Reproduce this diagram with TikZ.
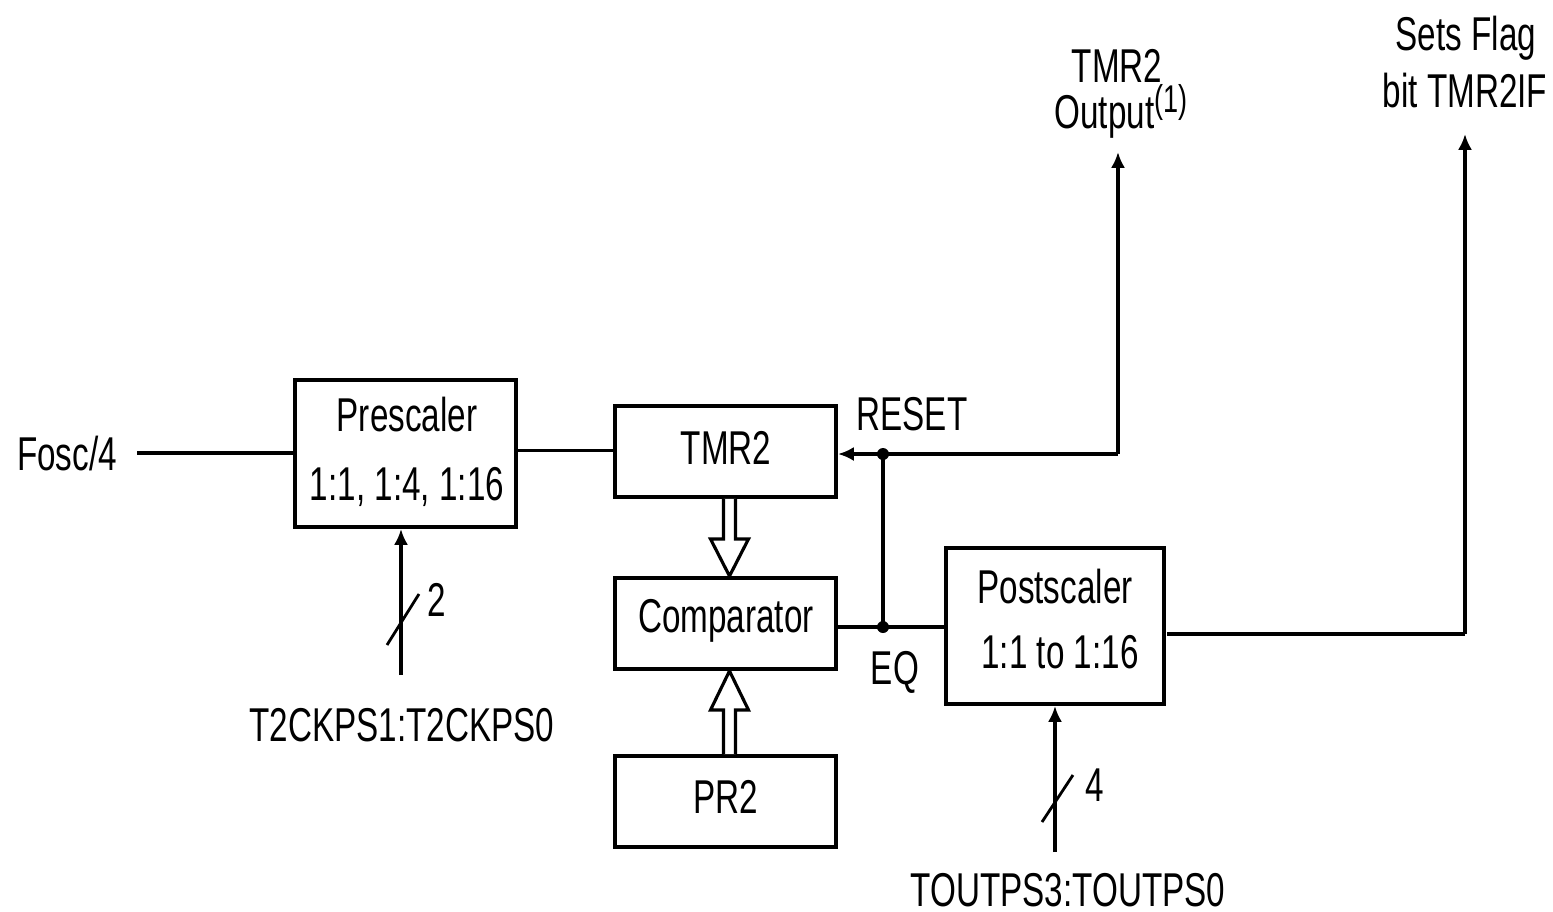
\documentclass[tikz,border=0pt]{standalone}
\usepackage{fontspec}
\setmainfont[FakeStretch=0.7]{Liberation Sans}
\usetikzlibrary{arrows.meta,calc}
\begin{document}
\begin{tikzpicture}[x=0.01cm,y=-0.01cm,
  box/.style={draw,line width=1.1pt,inner sep=0pt},
  lbl/.style={anchor=base,inner sep=0pt,font=\fontsize{13.5}{16}\selectfont},
  wire/.style={line width=1.1pt},
  arr/.style={line width=1.1pt,-{Latex[length=4.5pt,width=4pt]}},
  slash/.style={line width=0.8pt},
  hollow/.style={line width=0.9pt,fill=white,line join=miter},
  dot/.style={circle,fill,inner sep=0pt,minimum size=0.12cm}]
\useasboundingbox (0,0) rectangle (1553,911);
% boxes
\node[box,minimum width=2.21cm,minimum height=1.47cm] (pre) at (405.5,453.5) {};
\node[box,minimum width=2.21cm,minimum height=0.91cm] (tmr) at (725.5,451.5) {};
\node[box,minimum width=2.21cm,minimum height=0.91cm] (cmp) at (725.5,623.5) {};
\node[box,minimum width=2.21cm,minimum height=0.91cm] (pr2) at (725.5,801.5) {};
\node[box,minimum width=2.18cm,minimum height=1.56cm] (post) at (1055,626) {};
% labels
\node[lbl] (tfosc) at (67,470) {Fosc/4};
\node[lbl] (tpre1) at (407,431) {Prescaler};
\node[lbl] (tpre2) at (407,500) {1:1, 1:4, 1:16};
\node[lbl] (ttmr) at (726,464) {TMR2};
\node[lbl] (treset) at (912,430) {RESET};
\node[lbl] (tcmp) at (726,632) {Comparator};
\node[lbl] (teq) at (895,684) {EQ};
\node[lbl] (tpr2) at (726,813) {PR2};
\node[lbl] (tpost1) at (1055,603) {Postscaler};
\node[lbl] (tpost2) at (1060,668) {1:1 to 1:16};
\node[lbl] (tck) at (402,741) {T2CKPS1:T2CKPS0};
\node[lbl] (tout) at (1068,906) {TOUTPS3:TOUTPS0};
\node[lbl] (t2) at (437,616) {2};
\node[lbl] (t4) at (1095,801) {4};
\node[lbl] (to1) at (1117,82) {TMR2};
\node[lbl] (to2) at (1121,128) {Output\raisebox{0.33em}{\fontsize{11}{11}\selectfont(1)}};
\node[lbl] (tf1) at (1466,50) {Sets Flag};
\node[lbl] (tf2) at (1465,107) {bit TMR2IF};
% coordinates
\coordinate (fin) at (137,453);
\node[dot] (d1) at (883,454) {};
\node[dot] (d2) at (883,627) {};
\coordinate (o1) at (1118,454);
\coordinate (o1t) at (1118,152);
\coordinate (o2s) at (1167,634);
\coordinate (o2) at (1465,634);
\coordinate (o2t) at (1465,134);
\coordinate (ck) at (401,675);
\coordinate (ps) at (1055,852);
% wires
\draw[wire] (fin) -- (fin -| pre.west);
\draw[wire] ($(pre.east)+(0,-3)$) -- ($(tmr.west)+(0,-1)$);
\draw[arr] (d1.center) -- (d1 -| tmr.east);
\draw[wire] (d1.center) -- (o1);
\draw[arr] (o1) -- (o1t);
\draw[wire] (d1.center) -- (d2.center);
\draw[wire] (cmp.east |- d2) -- (d2.center) -- (post.west |- d2);
\draw[wire] (o2s) -- (o2);
\draw[arr] (o2) -- (o2t);
\draw[arr] (ck) -- (ck |- pre.south);
\draw[slash] (387,645) -- (419,594);
\draw[arr] (ps) -- (ps |- post.south);
\draw[slash] (1042,822) -- (1073,775);
% hollow arrows
\draw[hollow] ($(tmr.south)+(-2,0)$) -- ++(0,40) -- ++(-13,0) -- ($(cmp.north)+(4,0)$)
  -- ($(tmr.south)+(23,40)$) -- ++(-13,0) -- ($(tmr.south)+(10,0)$);
\draw[hollow] ($(pr2.north)+(-2,0)$) -- ++(0,-44) -- ++(-13,0) -- ($(cmp.south)+(4,0)$)
  -- ($(pr2.north)+(23,-44)$) -- ++(-13,0) -- ($(pr2.north)+(10,0)$);
\end{tikzpicture}
\end{document}
